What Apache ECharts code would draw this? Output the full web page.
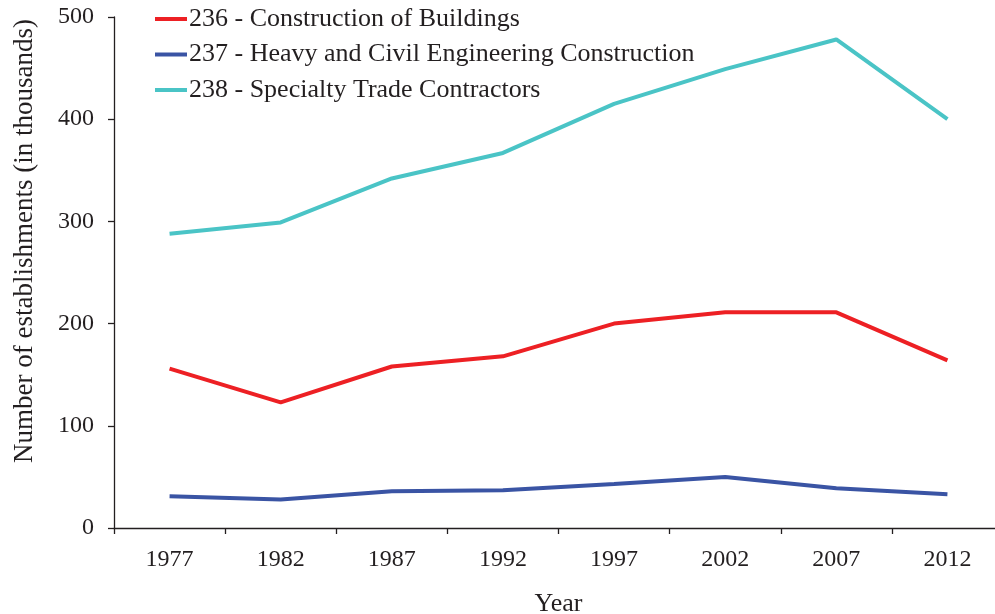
<!DOCTYPE html>
<html>
<head>
<meta charset="utf-8">
<script src="https://cdn.jsdelivr.net/npm/echarts@6/dist/echarts.min.js"></script>
<style>
  html, body { margin: 0; padding: 0; background: #fff; }
  #chart { width: 995px; height: 614px; }
</style>
</head>
<body>
<div id="chart"></div>
<script>
var years = ['1977', '1982', '1987', '1992', '1997', '2002', '2007', '2012'];
var buildings = [156, 123, 158, 168, 200, 211, 211, 164];
var heavyCivil = [31, 28, 36, 37, 43, 50, 39, 33];
var specialty = [288, 299, 342, 367, 415, 449, 478, 400];
var seriesNames = [
  '236 - Construction of Buildings',
  '237 - Heavy and Civil Engineering Construction',
  '238 - Specialty Trade Contractors'
];

var ink = '#231f20';
var font = '"Liberation Serif", "Times New Roman", serif';

var myChart = echarts.init(document.getElementById('chart'), null, { renderer: 'canvas' });

function lineSeries(name, data, color) {
  return {
    name: name,
    type: 'line',
    data: data,
    symbol: 'none',
    lineStyle: { color: color, width: 4 },
    itemStyle: { color: color },
    animation: false
  };
}

var option = {
  backgroundColor: '#fff',
  textStyle: { fontFamily: font, color: ink },
  // 图表右侧被裁切，所以绘图区超出画布
  grid: { left: 114, top: 17, right: -8, bottom: 86, containLabel: false, outerBoundsMode: 'none' },
  legend: {
    orient: 'vertical',
    left: 155,
    top: 6,
    padding: 0,
    itemWidth: 32,
    itemHeight: 4,
    itemGap: 9.5,
    icon: 'rect',
    textStyle: { fontFamily: font, fontSize: 26, color: ink, padding: [0, 0, 0, -3] },
    data: seriesNames
  },
  xAxis: {
    type: 'category',
    data: years,
    boundaryGap: true,
    name: 'Year',
    nameLocation: 'middle',
    nameGap: 63,
    nameTextStyle: { fontFamily: font, fontSize: 26, color: ink },
    axisLine: { lineStyle: { color: ink, width: 1.3 } },
    axisTick: { show: true, length: 6, lineStyle: { color: ink, width: 1.3 } },
    axisLabel: { fontFamily: font, fontSize: 24, color: ink, margin: 20 },
    splitLine: { show: false }
  },
  yAxis: {
    type: 'value',
    min: 0,
    max: 500,
    interval: 100,
    name: 'Number of establishments (in thousands)',
    nameLocation: 'middle',
    nameGap: 76,
    nameTextStyle: { fontFamily: font, fontSize: 27, color: ink, padding: [0, 0, 0, 63] },
    axisLine: { show: true, lineStyle: { color: ink, width: 1.3 } },
    axisTick: { show: true, length: 6, lineStyle: { color: ink, width: 1.3 } },
    axisLabel: { fontFamily: font, fontSize: 24, color: ink, margin: 20 },
    splitLine: { show: false }
  },
  series: [
    lineSeries(seriesNames[0], buildings, '#ed2024'),
    lineSeries(seriesNames[1], heavyCivil, '#3a54a4'),
    lineSeries(seriesNames[2], specialty, '#4ac4c6')
  ]
};

myChart.setOption(option);
</script>
</body>
</html>
